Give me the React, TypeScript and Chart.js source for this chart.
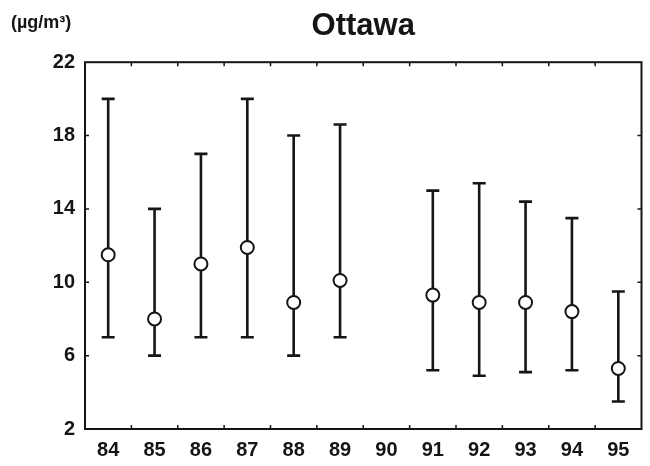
import React, { useEffect, useRef } from 'react';
import { Chart, registerables } from 'chart.js';

Chart.register(...registerables);

const years = ['84', '85', '86', '87', '88', '89', '90', '91', '92', '93', '94', '95'];
const means = [11.5, 8.0, 11.0, 11.9, 8.9, 10.1, null, 9.3, 8.9, 8.9, 8.4, 5.3];
const lows = [7, 6, 7, 7, 6, 7, null, 5.2, 4.9, 5.1, 5.2, 3.5];
const highs = [20, 14, 17, 20, 18, 18.6, null, 15, 15.4, 14.4, 13.5, 9.5];
const yMin = 2;
const yMax = 22;
const yStep = 4;
const title = 'Ottawa';
const unitLabel = '(µg/m³)';

const FONT = '"Liberation Sans", Arial, Helvetica, sans-serif';
const INK = '#151515';

const errorBarPlugin = {
  id: 'errorBars',
  beforeDatasetsDraw(chart: any) {
    const { ctx, scales } = chart;
    const x = scales.x;
    const y = scales.y;
    ctx.save();
    ctx.strokeStyle = INK;
    ctx.lineWidth = 2.6;
    ctx.lineCap = 'butt';
    const cap = 6.5;
    for (let i = 0; i < years.length; i++) {
      const lo = lows[i];
      const hi = highs[i];
      if (lo == null || hi == null) continue;
      const px = x.getPixelForValue(i);
      const pLo = y.getPixelForValue(lo);
      const pHi = y.getPixelForValue(hi);
      ctx.beginPath();
      ctx.moveTo(px, pLo);
      ctx.lineTo(px, pHi);
      ctx.moveTo(px - cap, pLo);
      ctx.lineTo(px + cap, pLo);
      ctx.moveTo(px - cap, pHi);
      ctx.lineTo(px + cap, pHi);
      ctx.stroke();
    }
    ctx.restore();
  },
};

const framePlugin = {
  id: 'frame',
  beforeDatasetsDraw(chart: any) {
    const { ctx, chartArea, scales } = chart;
    const { left, right, top, bottom } = chartArea;
    ctx.save();
    ctx.strokeStyle = INK;
    ctx.lineWidth = 2;
    ctx.strokeRect(left, top, right - left, bottom - top);
    ctx.lineWidth = 1.5;
    const tl = 4;
    ctx.beginPath();
    scales.y.ticks.forEach((t: any) => {
      if (t.value <= yMin || t.value >= yMax) return;
      const py = scales.y.getPixelForValue(t.value);
      ctx.moveTo(left, py);
      ctx.lineTo(left + tl, py);
      ctx.moveTo(right, py);
      ctx.lineTo(right - tl, py);
    });
    for (let i = 0; i < years.length - 1; i++) {
      const px = (scales.x.getPixelForValue(i) + scales.x.getPixelForValue(i + 1)) / 2;
      ctx.moveTo(px, bottom);
      ctx.lineTo(px, bottom - tl);
      ctx.moveTo(px, top);
      ctx.lineTo(px, top + tl);
    }
    ctx.stroke();
    ctx.restore();
  },
  afterDraw(chart: any) {
    const { ctx } = chart;
    ctx.save();
    ctx.fillStyle = INK;
    ctx.font = `bold 18px ${FONT}`;
    ctx.textAlign = 'left';
    ctx.textBaseline = 'middle';
    ctx.fillText(unitLabel, 11, 23);
    ctx.restore();
  },
};

export default function App() {
  const ref = useRef<HTMLCanvasElement | null>(null);

  useEffect(() => {
    if (!ref.current) return;
    const chart = new Chart(ref.current, {
      type: 'line',
      data: {
        labels: years,
        datasets: [
          {
            data: means as any,
            showLine: false,
            pointRadius: 6.5,
            pointHoverRadius: 6.5,
            pointBackgroundColor: '#ffffff',
            pointBorderColor: INK,
            pointBorderWidth: 2,
            borderColor: INK,
          },
        ],
      },
      options: {
        animation: false,
        responsive: true,
        maintainAspectRatio: false,
        layout: { padding: { left: 0, right: 4, top: 0, bottom: 0 } },
        plugins: {
          legend: { display: false },
          tooltip: { enabled: false },
          title: {
            display: true,
            text: title,
            fullSize: false,
            color: INK,
            font: { family: FONT, size: 31, weight: 'bold' },
            padding: { top: 8, bottom: 17 },
          },
        },
        scales: {
          x: {
            type: 'category',
            offset: true,
            grid: { display: false, drawTicks: false },
            border: { display: false },
            ticks: {
              color: INK,
              font: { family: FONT, size: 20, weight: 'bold' },
              padding: 9,
              maxRotation: 0,
              autoSkip: false,
            },
            afterFit(scale: any) {
              scale.height = 37;
            },
          },
          y: {
            min: yMin,
            max: yMax,
            grid: { display: false, drawTicks: false },
            border: { display: false },
            ticks: {
              stepSize: yStep,
              color: INK,
              font: { family: FONT, size: 20, weight: 'bold' },
              padding: 10,
            },
            afterFit(scale: any) {
              scale.width = 85;
            },
          },
        },
      },
      plugins: [errorBarPlugin, framePlugin],
    });
    return () => chart.destroy();
  }, []);

  return (
    <div style={{ position: 'fixed', left: 0, top: 0, width: 650, height: 466, background: '#fff' }}>
      <canvas ref={ref} />
    </div>
  );
}
